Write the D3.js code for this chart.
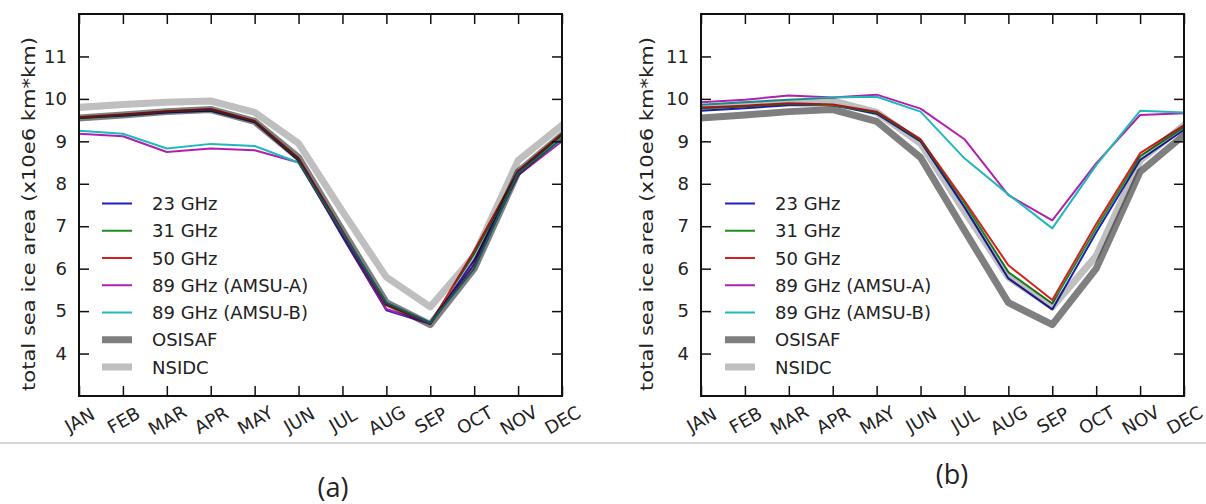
<!DOCTYPE html>
<html>
<head>
<meta charset="utf-8">
<script src="https://cdn.jsdelivr.net/npm/d3@7"></script>
<style>
  html, body { margin: 0; padding: 0; background: #fff; }
  svg { display: block; }
  text { font-family: "DejaVu Sans", sans-serif; fill: #222; }
</style>
</head>
<body>
<svg id="chart" width="1206" height="504"></svg>
<script>
// ---------- data ----------
const months = ["JAN","FEB","MAR","APR","MAY","JUN","JUL","AUG","SEP","OCT","NOV","DEC"];
const yTicks = [4, 5, 6, 7, 8, 9, 10, 11];
const seriesNames = ["23 GHz", "31 GHz", "50 GHz", "89 GHz (AMSU-A)", "89 GHz (AMSU-B)", "OSISAF", "NSIDC"];
const panelLabels = ["(a)", "(b)"];
const yLabel = "total sea ice area (x10e6 km*km)";

// panel (a)
const a23  = [9.55, 9.60, 9.68, 9.72, 9.45, 8.55, 6.75, 5.02, 4.70, 6.20, 8.20, 9.05];
const a31  = [9.55, 9.62, 9.70, 9.75, 9.47, 8.58, 6.85, 5.18, 4.72, 6.35, 8.28, 9.15];
const a50  = [9.57, 9.63, 9.71, 9.76, 9.48, 8.60, 6.88, 5.15, 4.70, 6.42, 8.30, 9.18];
const a89A = [9.18, 9.12, 8.75, 8.83, 8.79, 8.50, 6.80, 5.05, 4.70, 6.10, 8.20, 9.00];
const a89B = [9.25, 9.18, 8.83, 8.94, 8.89, 8.50, 6.85, 5.20, 4.72, 6.00, 8.25, 9.05];
// panel (b)
const b23  = [9.72, 9.78, 9.85, 9.85, 9.65, 9.00, 7.45, 5.77, 5.04, 6.85, 8.56, 9.27];
const b31  = [9.78, 9.82, 9.88, 9.85, 9.68, 9.03, 7.55, 5.92, 5.18, 6.95, 8.65, 9.33];
const b50  = [9.80, 9.84, 9.90, 9.87, 9.70, 9.05, 7.60, 6.08, 5.26, 7.05, 8.72, 9.38];
const b89A = [9.92, 9.98, 10.08, 10.03, 10.10, 9.77, 9.05, 7.73, 7.14, 8.48, 9.62, 9.66];
const b89B = [9.86, 9.92, 9.98, 10.03, 10.05, 9.70, 8.60, 7.75, 6.95, 8.44, 9.72, 9.68];
// reference products (same in both panels)
const osisaf = [9.55, 9.62, 9.70, 9.75, 9.47, 8.62, 6.90, 5.20, 4.68, 6.00, 8.28, 9.15];
const nsidc  = [9.80, 9.87, 9.92, 9.95, 9.68, 8.95, 7.35, 5.80, 5.10, 6.30, 8.55, 9.38];

// ---------- styles ----------
const styles = [
  { color: "#1f1fbf", width: 2,   opacity: 1 },
  { color: "#1e8c1e", width: 2,   opacity: 1 },
  { color: "#d62020", width: 2,   opacity: 1 },
  { color: "#b020b0", width: 2,   opacity: 1 },
  { color: "#20b8b8", width: 2,   opacity: 1 },
  { color: "#000000", width: 7,   opacity: 0.5 },
  { color: "#000000", width: 7,   opacity: 0.25 }
];
const FS = "18px";

const panels = [
  { series: [a23, a31, a50, a89A, a89B, osisaf, nsidc], left: 79,  right: 562,  ylabX: 28,  legX: 102, label: panelLabels[0], labX: 333, labY: 486 },
  { series: [b23, b31, b50, b89A, b89B, osisaf, nsidc], left: 701, right: 1184, ylabX: 646, legX: 725, label: panelLabels[1], labX: 952, labY: 473 }
];
const plotTop = 14, plotBottom = 396;

const svg = d3.select("#chart");

// separator line
svg.append("line").attr("x1", 0).attr("x2", 1206).attr("y1", 443).attr("y2", 443)
  .attr("stroke", "#c8c8c8").attr("stroke-width", 1.5);

panels.forEach((p, pi) => {
  const x = d3.scaleLinear().domain([0, 11]).range([p.left, p.right]);
  const y = d3.scaleLinear().domain([3, 12]).range([plotBottom, plotTop]);
  const g = svg.append("g");

  const clipId = "clip" + pi;
  svg.append("clipPath").attr("id", clipId).append("rect")
    .attr("x", p.left).attr("y", plotTop).attr("width", p.right - p.left).attr("height", plotBottom - plotTop);

  const line = d3.line().x((d, i) => x(i)).y(d => y(d));
  const lg = g.append("g").attr("clip-path", `url(#${clipId})`);
  p.series.forEach((s, si) => {
    const st = styles[si];
    lg.append("path").datum(s).attr("d", line)
      .attr("fill", "none").attr("stroke", st.color).attr("stroke-width", st.width)
      .attr("stroke-opacity", st.opacity)
      .attr("stroke-linejoin", "round").attr("stroke-linecap", "square");
  });

  // axes (ticks inward)
  const xb = d3.axisBottom(x).tickValues(d3.range(12)).tickSize(-10).tickFormat((d) => months[d]);
  const xt = d3.axisTop(x).tickValues(d3.range(12)).tickSize(-10).tickFormat("");
  const yl = d3.axisLeft(y).tickValues(yTicks).tickSize(-10).tickPadding(12).tickFormat(d3.format("d"));
  const yr = d3.axisRight(y).tickValues(yTicks).tickSize(-10).tickFormat("");

  const gxb = g.append("g").attr("transform", `translate(0,${plotBottom})`).call(xb);
  g.append("g").attr("transform", `translate(0,${plotTop})`).call(xt);
  g.append("g").attr("transform", `translate(${p.left},0)`).call(yl);
  g.append("g").attr("transform", `translate(${p.right},0)`).call(yr);

  g.selectAll(".domain").remove();
  g.selectAll(".tick line").attr("stroke", "#111").attr("stroke-width", 1.5);
  g.selectAll(".tick text").style("font-family", "DejaVu Sans").style("font-size", FS).attr("fill", "#222");

  gxb.selectAll(".tick text")
    .attr("y", 0).attr("dy", null)
    .attr("dominant-baseline", "central")
    .attr("text-anchor", "middle")
    .attr("transform", "translate(0,24) rotate(-30)");

  // frame
  g.append("rect").attr("x", p.left).attr("y", plotTop)
    .attr("width", p.right - p.left).attr("height", plotBottom - plotTop)
    .attr("fill", "none").attr("stroke", "#111").attr("stroke-width", 2);

  // y label
  g.append("text")
    .attr("transform", `translate(${p.ylabX},214) rotate(-90)`)
    .attr("text-anchor", "middle").attr("dominant-baseline", "central")
    .attr("textLength", 354).attr("lengthAdjust", "spacingAndGlyphs")
    .style("font-size", FS)
    .text(yLabel);

  // legend
  const rowY = d3.scaleLinear().domain([0, 6]).range([203.5, 367]);
  seriesNames.forEach((name, si) => {
    const st = styles[si];
    const yy = rowY(si);
    const half = st.width / 2;
    g.append("line").attr("x1", p.legX + half).attr("x2", p.legX + 30 - half)
      .attr("y1", yy).attr("y2", yy)
      .attr("stroke", st.color).attr("stroke-width", st.width).attr("stroke-opacity", st.opacity)
      .attr("stroke-linecap", "square");
    g.append("text").attr("x", p.legX + 50).attr("y", yy)
      .attr("dominant-baseline", "central")
      .style("font-size", FS)
      .text(name);
  });

  // panel label
  svg.append("text").attr("x", p.labX).attr("y", p.labY)
    .attr("text-anchor", "middle").attr("dominant-baseline", "central")
    .style("font-family", "'Open Sans', sans-serif").style("font-size", "27px").attr("fill", "#111")
    .text(p.label);
});
</script>
</body>
</html>
